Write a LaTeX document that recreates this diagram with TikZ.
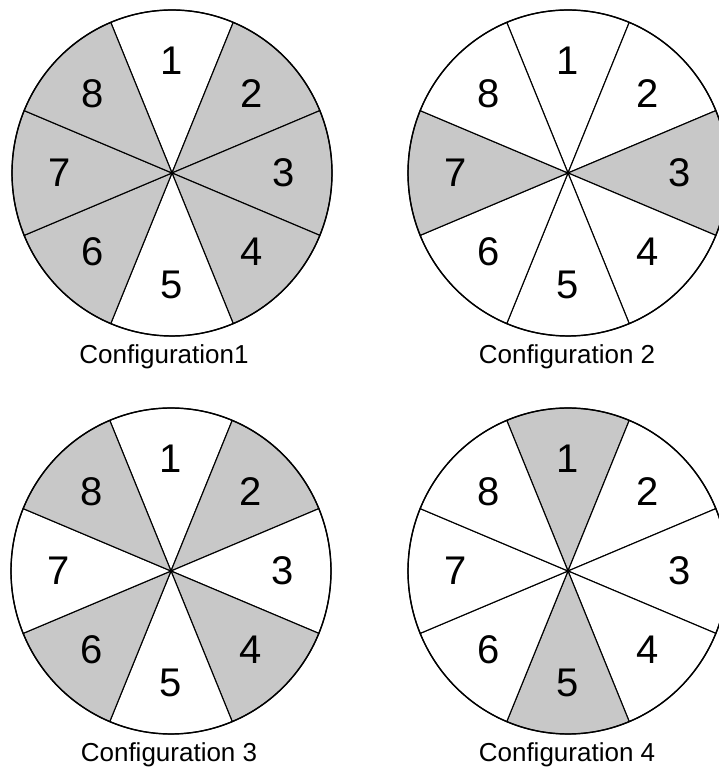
\documentclass[tikz,border=0pt]{standalone}
\usepackage{fontspec}
\setmainfont{Liberation Sans}
\usepackage{tikz}
\usetikzlibrary{positioning,calc}

\definecolor{sectorgray}{RGB}{200,200,200}

\begin{document}
\begin{tikzpicture}[x=1pt, y=1pt,
  sector/.style={draw=black, line width=1.1pt, line join=round},
  rim/.style={draw=black, line width=1.4pt},
  num/.style={font=\fontsize{40}{40}\selectfont, inner sep=0pt},
  caption/.style={font=\fontsize{26}{26}\selectfont, inner sep=0pt}
]
\clip (0,0) rectangle (719,771);

% wheels: centre x/y, caption offset, fill of sectors 1..8
\foreach \w/\cx/\cy/\dx/\shades/\cap in {
  1/172/598/-8/{white,sectorgray,sectorgray,sectorgray,white,sectorgray,sectorgray,sectorgray}/Configuration1,
  2/568/598/-1/{white,white,sectorgray,white,white,white,sectorgray,white}/Configuration 2,
  3/171/200/-2/{white,sectorgray,white,sectorgray,white,sectorgray,white,sectorgray}/Configuration 3,
  4/568/200/-1/{sectorgray,white,white,white,sectorgray,white,white,white}/Configuration 4}
{
  \coordinate (c\w) at (\cx,\cy);
  \foreach \f [count=\k] in \shades {
    \pgfmathsetmacro\mid{90-45*(\k-1)}
    \filldraw[sector, fill=\f] (c\w) -- ++(\mid+22.5:160 and 163)
      arc[start angle=\mid+22.5, end angle=\mid-22.5, x radius=160, y radius=163] -- cycle;
    \node[num] (c\w-n\k) at ($(c\w)+(\mid:112)$) {\k};
  }
  \draw[rim] (c\w) ellipse[x radius=160, y radius=163];
  \node[caption] (c\w-cap) at ($(c\w)+(\dx,-184)$) {\cap};
}
\end{tikzpicture}
\end{document}
